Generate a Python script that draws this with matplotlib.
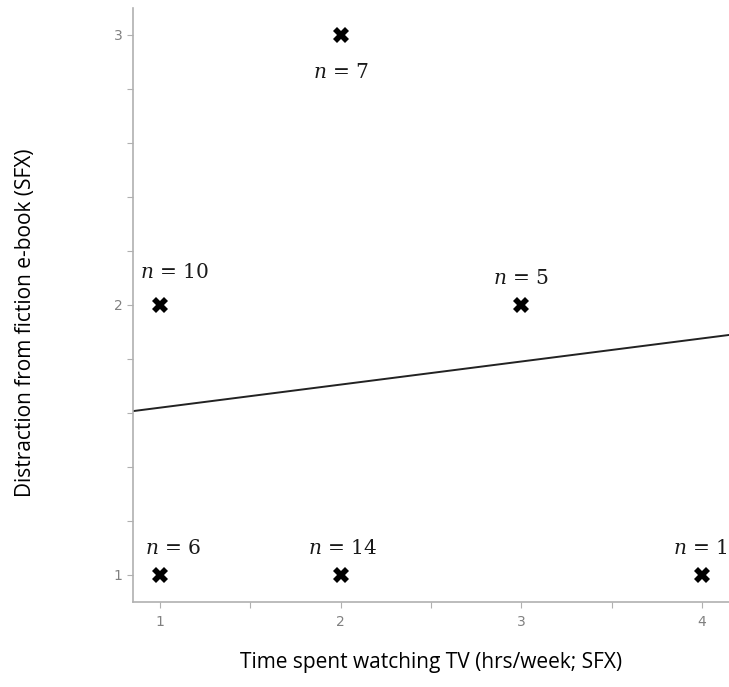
import matplotlib.pyplot as plt
from matplotlib.ticker import MultipleLocator

# data
tv_hours = [1, 1, 2, 2, 3, 4]
distraction = [2, 1, 3, 1, 2, 1]
counts = [10, 6, 7, 14, 5, 1]
# label offsets (x, y) from each point, in data units
label_dx = [0.08, 0.07, 0.0, 0.01, 0.0, -0.01]
label_dy = [0.12, 0.10, -0.14, 0.10, 0.10, 0.10]

# fitted line end points
line_x = [0.85, 4.15]
line_y = [1.607, 1.889]

plt.rcParams['mathtext.fontset'] = 'dejavuserif'

fig = plt.figure(figsize=(7.29, 6.87), dpi=100)
ax = fig.add_axes([133 / 729, 85 / 687, 596 / 729, 594 / 687])

ax.plot(line_x, line_y, color='#222222', linewidth=1.4, zorder=2)
ax.plot(tv_hours, distraction, linestyle='none', marker='X', markersize=12,
        color='black', markeredgewidth=0, zorder=3)

for x, y, n, dx, dy in zip(tv_hours, distraction, counts, label_dx, label_dy):
    ax.text(x + dx, y + dy, '$n$ = %d' % n, ha='center', va='center',
            fontsize=14.5, family='DejaVu Serif', color='#1a1a1a', clip_on=False)

ax.set_xlim(0.85, 4.15)
ax.set_ylim(0.9, 3.1)
ax.set_xticks([1, 2, 3, 4])
ax.set_yticks([1, 2, 3])
ax.xaxis.set_minor_locator(MultipleLocator(0.5))
ax.yaxis.set_minor_locator(MultipleLocator(0.2))

for side in ['top', 'right']:
    ax.spines[side].set_visible(False)
for side in ['left', 'bottom']:
    ax.spines[side].set_color('#b0b0b0')
    ax.spines[side].set_linewidth(1.2)

ax.tick_params(which='both', colors='#b0b0b0', length=4, width=0.8,
               labelcolor='#808080', labelsize=10)
ax.tick_params(axis='x', pad=5)

ax.set_xlabel('Time spent watching TV (hrs/week; SFX)', fontsize=15,
              family='Open Sans')
ax.set_ylabel('Distraction from fiction e-book (SFX)', fontsize=15,
              family='Open Sans')
ax.xaxis.set_label_coords(0.5, -0.085)
ax.yaxis.set_label_coords(-0.163, 0.47)

fig.savefig('out.png', dpi=100)
